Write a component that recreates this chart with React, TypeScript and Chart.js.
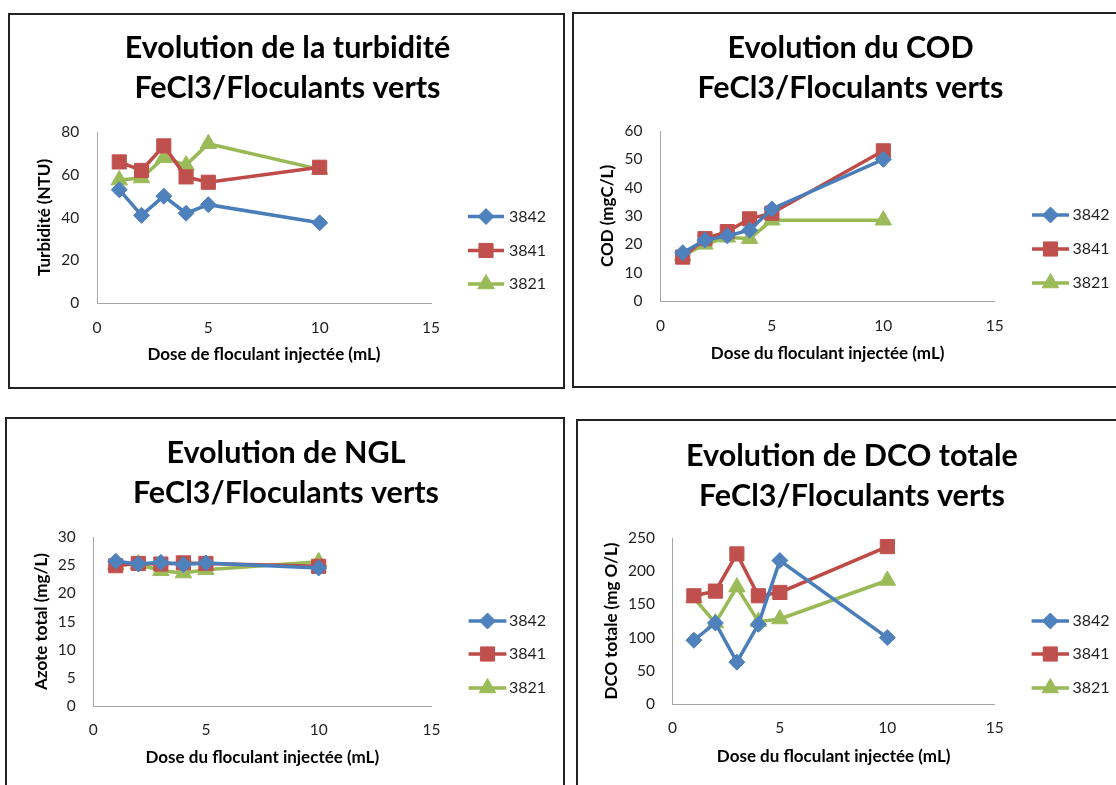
import React, { useEffect, useRef } from 'react';
import { Chart, registerables } from 'chart.js';
import { drawPoint } from 'chart.js/helpers';

Chart.register(...registerables);

// ---------- data ----------
const doses = [1, 2, 3, 4, 5, 10];
const seriesNames = ['3842', '3841', '3821'];
const xTicks = [0, 5, 10, 15];

const turb3842 = [53, 41, 50, 42, 46, 37.5];
const turb3841 = [66, 62, 73.5, 59, 56.5, 63.5];
const turb3821 = [57.5, 58.5, 68, 64.5, 74.5, 62.5];
const turbTicks = [0, 20, 40, 60, 80];

const cod3842 = [17, 21.5, 23, 25, 32.5, 50];
const cod3841 = [15.5, 22, 24.5, 29, 31, 53];
const cod3821 = [16, 20, 22.5, 22, 28.5, 28.5];
const codTicks = [0, 10, 20, 30, 40, 50, 60];

const ngl3842 = [25.7, 25.2, 25.5, 25.1, 25.4, 24.5];
const ngl3841 = [24.9, 25.3, 25.2, 25.4, 25.3, 24.8];
const ngl3821 = [25.1, 25.2, 24.0, 23.6, 24.2, 25.6];
const nglTicks = [0, 5, 10, 15, 20, 25, 30];

const dco3842 = [96, 122, 63, 120, 216, 100];
const dco3841 = [163, 170, 226, 163, 168, 237];
const dco3821 = [160, 122, 176, 124, 128, 186];
const dcoTicks = [0, 50, 100, 150, 200, 250];

// ---------- styles ----------
const FONT = 'Lato, "Open Sans", sans-serif';
const TEXT = '#1f1f1f';
const lineColors = ['#4A7EBB', '#BE4B48', '#98B954'];
const markerColors = ['#4F81BD', '#C0504D', '#9BBB59'];
const markerStyles = ['rectRot', 'rect', 'triangle'];
const markerRadius = [8, 10, 9.5];

type Geo = {
  box: { l: number; t: number; r: number; b: number; noRight?: boolean; noBottom?: boolean };
  area: { l: number; r: number; t: number; b: number };
  titleCx: number;
  titleY1: number;
  yTitleX: number;
  yTickRight: number;
  xTickY: number;
  xTitleY: number;
  legend: { x0: number; x1: number; tx: number; ys: number[] };
};

type PanelProps = {
  title: string[];
  xTitle: string;
  yTitle: string;
  yTicks: number[];
  series: number[][];
  geo: Geo;
};

const TITLE_SIZE = 30.5;
const TITLE_LH = 40;
const TICK_SIZE = 15.5;
const LEG_SIZE = 16;
const AXT_SIZE = 17;
const XH = 62;

function Panel({ title, xTitle, yTitle, yTicks, series, geo }: PanelProps) {
  const ref = useRef<HTMLCanvasElement | null>(null);
  const cx = geo.box.l + 2;
  const cy = geo.box.t + 2;
  const cw = Math.round(2 * (geo.titleCx - cx));
  const ch = Math.min(geo.box.b, 785) - 2 - cy;

  useEffect(() => {
    if (!ref.current) return;
    const aL = geo.area.l - cx;
    const aR = geo.area.r - cx;
    const aT = geo.area.t - cy;
    const aB = geo.area.b - cy;
    const tickLH = TICK_SIZE * 1.2;
    const axLH = AXT_SIZE * 1.2;
    const titlePadTop = geo.titleY1 - cy - TITLE_LH / 2;
    const titlePadBottom = aT - titlePadTop - 2 * TITLE_LH;

    const legendPlugin = {
      id: 'excelLegend',
      afterDraw(chart: any) {
        const ctx = chart.ctx as CanvasRenderingContext2D;
        chart.data.datasets.forEach((ds: any, i: number) => {
          const y = geo.legend.ys[i] - cy;
          const x0 = geo.legend.x0 - cx;
          const x1 = geo.legend.x1 - cx;
          ctx.save();
          ctx.strokeStyle = ds.borderColor;
          ctx.lineWidth = ds.borderWidth;
          ctx.beginPath();
          ctx.moveTo(x0, y);
          ctx.lineTo(x1, y);
          ctx.stroke();
          ctx.fillStyle = ds.pointBackgroundColor;
          ctx.strokeStyle = ds.pointBorderColor;
          ctx.lineWidth = 1;
          drawPoint(ctx, { pointStyle: ds.pointStyle, radius: ds.pointRadius, rotation: 0, borderWidth: 1 } as any, (x0 + x1) / 2, y);
          ctx.fillStyle = TEXT;
          ctx.font = `${LEG_SIZE}px ${FONT}`;
          ctx.textBaseline = 'middle';
          ctx.textAlign = 'left';
          ctx.fillText(ds.label, geo.legend.tx - cx, y);
          ctx.restore();
        });
      },
    };

    const chart = new Chart(ref.current, {
      type: 'scatter',
      data: {
        datasets: series.map((vals, i) => ({
          label: seriesNames[i],
          data: doses.map((d, j) => ({ x: d, y: vals[j] })),
          xAxisID: 'x',
          yAxisID: 'y',
          showLine: true,
          borderColor: lineColors[i],
          borderWidth: 3.5,
          pointStyle: markerStyles[i] as any,
          pointRadius: markerRadius[i],
          pointBackgroundColor: markerColors[i],
          pointBorderColor: markerColors[i],
          pointBorderWidth: 1,
          tension: 0,
        })),
      },
      options: {
        animation: false,
        responsive: false,
        events: [],
        layout: {
          padding: { left: 0, top: 0, right: 0, bottom: ch - aB - XH },
        },
        plugins: {
          legend: { display: false },
          tooltip: { enabled: false },
          title: {
            display: true,
            text: title,
            color: '#000',
            font: { family: FONT, size: TITLE_SIZE, weight: 'bold', lineHeight: TITLE_LH / TITLE_SIZE },
            padding: { top: titlePadTop, bottom: titlePadBottom },
          },
        },
        scales: {
          x: {
            type: 'linear',
            position: 'bottom',
            min: xTicks[0],
            max: xTicks[xTicks.length - 1],
            afterBuildTicks: (s: any) => {
              s.ticks = xTicks.map((v) => ({ value: v }));
            },
            afterFit: (s: any) => {
              s.height = XH;
            },
            grid: { display: false, drawTicks: false },
            border: { display: true, color: '#a6a6a6', width: 1 },
            ticks: {
              color: TEXT,
              font: { family: FONT, size: TICK_SIZE },
              padding: geo.xTickY - geo.area.b - tickLH / 2,
              maxRotation: 0,
            },
            title: {
              display: true,
              text: xTitle,
              color: '#000',
              font: { family: FONT, size: AXT_SIZE, weight: 'bold' },
              padding: { top: 0, bottom: aB + XH - axLH / 2 - (geo.xTitleY - cy) },
            },
          },
          y: {
            type: 'linear',
            position: 'left',
            min: yTicks[0],
            max: yTicks[yTicks.length - 1],
            afterBuildTicks: (s: any) => {
              s.ticks = yTicks.map((v) => ({ value: v }));
            },
            afterFit: (s: any) => {
              s.width = aL;
            },
            grid: { display: false, drawTicks: false },
            border: { display: true, color: '#a6a6a6', width: 1 },
            ticks: {
              color: TEXT,
              font: { family: FONT, size: TICK_SIZE },
              padding: geo.area.l - geo.yTickRight,
            },
            title: {
              display: true,
              text: yTitle,
              color: '#000',
              font: { family: FONT, size: AXT_SIZE, weight: 'bold' },
              padding: { top: geo.yTitleX - cx - axLH / 2, bottom: 0 },
            },
          },
          legendSpace: {
            type: 'linear',
            position: 'right',
            display: true,
            grid: { display: false, drawTicks: false },
            border: { display: false },
            ticks: { display: false },
            afterFit: (s: any) => {
              s.width = cw - aR;
            },
          },
        },
      },
      plugins: [legendPlugin],
    } as any);
    return () => chart.destroy();
  }, []);

  const bw = 2;
  return (
    <>
      <div
        style={{
          position: 'absolute',
          left: geo.box.l,
          top: geo.box.t,
          width: geo.box.r - geo.box.l,
          height: geo.box.b - geo.box.t,
          borderTop: `${bw}px solid #222`,
          borderLeft: `${bw}px solid #222`,
          borderRight: geo.box.noRight ? 'none' : `${bw}px solid #222`,
          borderBottom: geo.box.noBottom ? 'none' : `${bw}px solid #222`,
          boxSizing: 'border-box',
          background: '#fff',
        }}
      />
      <canvas
        ref={ref}
        width={cw}
        height={ch}
        style={{ position: 'absolute', left: cx, top: cy, width: cw, height: ch }}
      />
    </>
  );
}

const geo1: Geo = {
  box: { l: 8, t: 13, r: 565, b: 389 },
  area: { l: 97, r: 431, t: 132, b: 303 },
  titleCx: 287.5,
  titleY1: 48,
  yTitleX: 44.6,
  yTickRight: 79.3,
  xTickY: 328,
  xTitleY: 355,
  legend: { x0: 468, x1: 504, tx: 509, ys: [216.5, 250.5, 284] },
};
const geo2: Geo = {
  box: { l: 572, t: 12, r: 1130, b: 388, noRight: true },
  area: { l: 660.4, r: 994.8, t: 131, b: 301 },
  titleCx: 850.4,
  titleY1: 48,
  yTitleX: 608,
  yTickRight: 642.6,
  xTickY: 326,
  xTitleY: 354,
  legend: { x0: 1032, x1: 1069, tx: 1072.5, ys: [215, 249, 283] },
};
const geo3: Geo = {
  box: { l: 5, t: 417, r: 565, b: 800, noBottom: true },
  area: { l: 93.2, r: 431.4, t: 537, b: 706 },
  titleCx: 286.2,
  titleY1: 453,
  yTitleX: 42,
  yTickRight: 75.7,
  xTickY: 730,
  xTitleY: 758,
  legend: { x0: 468.6, x1: 506.4, tx: 509, ys: [621, 654, 688] },
};
const geo4: Geo = {
  box: { l: 576, t: 419, r: 1130, b: 800, noRight: true, noBottom: true },
  area: { l: 672.4, r: 994.8, t: 538, b: 704 },
  titleCx: 852.2,
  titleY1: 456,
  yTitleX: 611.4,
  yTickRight: 655,
  xTickY: 728,
  xTitleY: 757,
  legend: { x0: 1031.6, x1: 1069, tx: 1072.4, ys: [621, 654, 688] },
};

export default function App() {
  return (
    <div style={{ position: 'absolute', left: 0, top: 0, width: 1116, height: 785, overflow: 'hidden', background: '#fff' }}>
      <Panel
        title={['Evolution de la turbidité', 'FeCl3/Floculants verts']}
        xTitle="Dose de floculant injectée (mL)"
        yTitle="Turbidité (NTU)"
        yTicks={turbTicks}
        series={[turb3842, turb3841, turb3821]}
        geo={geo1}
      />
      <Panel
        title={['Evolution du COD', 'FeCl3/Floculants verts']}
        xTitle="Dose du floculant injectée (mL)"
        yTitle="COD (mgC/L)"
        yTicks={codTicks}
        series={[cod3842, cod3841, cod3821]}
        geo={geo2}
      />
      <Panel
        title={['Evolution de NGL', 'FeCl3/Floculants verts']}
        xTitle="Dose du floculant injectée (mL)"
        yTitle="Azote total (mg/L)"
        yTicks={nglTicks}
        series={[ngl3842, ngl3841, ngl3821]}
        geo={geo3}
      />
      <Panel
        title={['Evolution de DCO totale', 'FeCl3/Floculants verts']}
        xTitle="Dose du floculant injectée (mL)"
        yTitle="DCO totale (mg O/L)"
        yTicks={dcoTicks}
        series={[dco3842, dco3841, dco3821]}
        geo={geo4}
      />
    </div>
  );
}
